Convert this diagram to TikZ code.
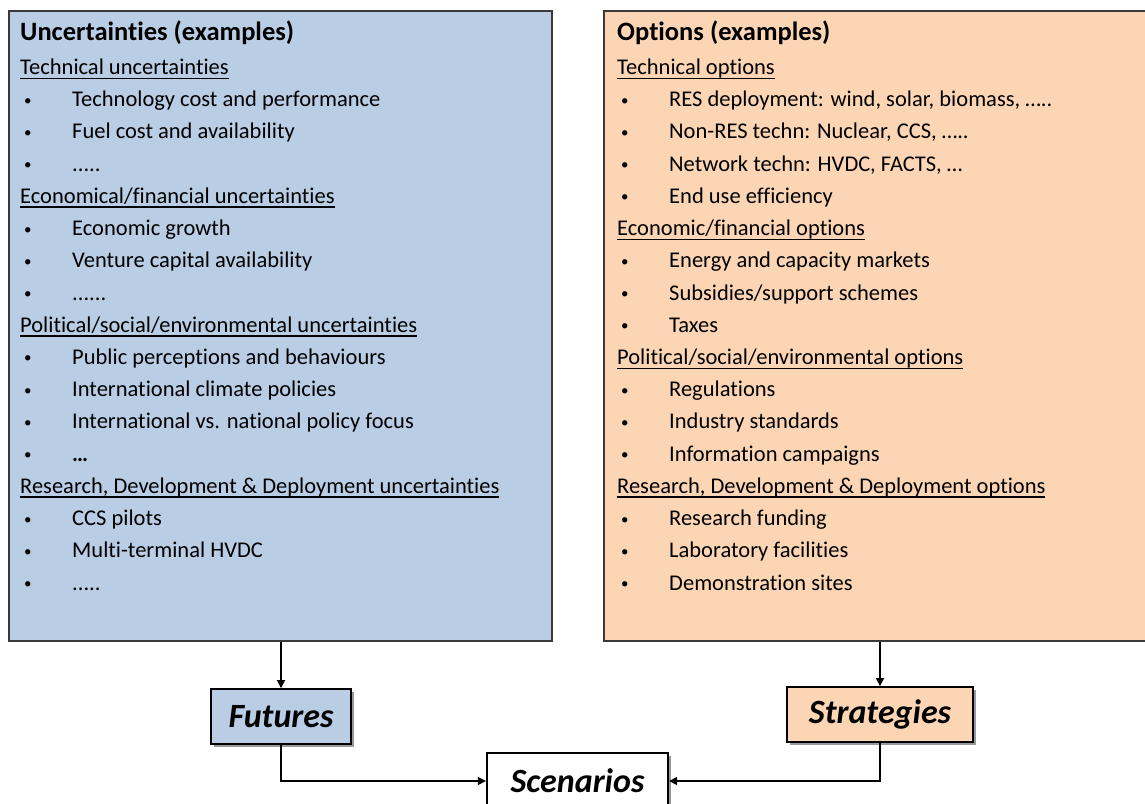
\documentclass[tikz,border=0pt]{standalone}
\usepackage{fontspec}
\setmainfont{Carlito}[Ligatures=CommonOff]
\usetikzlibrary{arrows.meta,shadows}

\definecolor{futblue}{HTML}{B9CDE5}
\definecolor{optpeach}{HTML}{FCD5B5}
\definecolor{boxgray}{HTML}{3A3A3A}

% underlined header and bullet item
\newcommand{\hdr}[1]{\setbox0=\hbox{#1}\rlap{\rule[-4.5pt]{\wd0}{1.4pt}}\box0}
\newcommand{\itm}[1]{\makebox[52pt][l]{\hspace{4pt}{\fontsize{15}{15}\selectfont\raisebox{1.5pt}{\textbullet}}}#1}

\begin{document}
\begin{tikzpicture}[x=1pt,y=-1pt,
	bigbox/.style={draw=boxgray,line width=1.5pt,anchor=north west,inner sep=0pt},
	tagbox/.style={draw=black,line width=1.8pt,minimum height=55pt,inner sep=0pt,
		font=\fontsize{34}{36}\selectfont\bfseries\itshape,
		drop shadow={shadow xshift=3pt,shadow yshift=-3pt,fill=black,opacity=.4}},
	txtline/.style={anchor=base west,inner sep=0pt,font=\fontsize{22.5}{26}\selectfont},
	boxtitle/.style={anchor=base west,inner sep=0pt,font=\fontsize{26.5}{30}\selectfont\bfseries},
	arr/.style={line width=1.5pt,-{Triangle[length=8pt,width=8pt]}}]

	\useasboundingbox (0,0) rectangle (1145,803);

	% the two example boxes
	\node[bigbox,fill=futblue,minimum width=543pt,minimum height=630pt] (unc) at (8,10) {};
	\node[bigbox,fill=optpeach,minimum width=554pt,minimum height=630pt] (opt) at (603,10) {};

	\node[boxtitle] (unctitle) at (20,40.5) {Uncertainties (examples)};
	\node[boxtitle] (opttitle) at (617,40.5) {Options (examples)};

	\foreach \txt [count=\i] in {
		{\hdr{Technical uncertainties}},
		{\itm{Technology cost and performance}},
		{\itm{Fuel cost and availability}},
		{\itm{.....}},
		{\hdr{Economical/financial uncertainties}},
		{\itm{Economic growth}},
		{\itm{Venture capital availability}},
		{\itm{......}},
		{\hdr{Political/social/environmental uncertainties}},
		{\itm{Public perceptions and behaviours}},
		{\itm{International climate policies}},
		{\itm{International vs. national policy focus}},
		{\itm{\textbf{\dots}}},
		{\hdr{Research, Development \& Deployment uncertainties}},
		{\itm{CCS pilots}},
		{\itm{Multi-terminal HVDC}},
		{\itm{.....}}}
		\node[txtline] (u\i) at (20,{74.5+32.22*(\i-1)}) {\txt};

	\foreach \txt [count=\i] in {
		{\hdr{Technical options}},
		{\itm{RES deployment: wind, solar, biomass, …..}},
		{\itm{Non-RES techn: Nuclear, CCS, …..}},
		{\itm{Network techn: HVDC, FACTS, …}},
		{\itm{End use efficiency}},
		{\hdr{Economic/financial options}},
		{\itm{Energy and capacity markets}},
		{\itm{Subsidies/support schemes}},
		{\itm{Taxes}},
		{\hdr{Political/social/environmental options}},
		{\itm{Regulations}},
		{\itm{Industry standards}},
		{\itm{Information campaigns}},
		{\hdr{Research, Development \& Deployment options}},
		{\itm{Research funding}},
		{\itm{Laboratory facilities}},
		{\itm{Demonstration sites}}}
		\node[txtline] (o\i) at (617,{74.5+32.22*(\i-1)}) {\txt};

	% futures, strategies, scenarios
	\node[tagbox,fill=futblue,minimum width=140pt] (fut) at (281,716.5) {Futures};
	\node[tagbox,fill=optpeach,minimum width=186pt] (strat) at (880,714.5) {Strategies};
	\node[tagbox,fill=white,line width=2.3pt,minimum width=181pt,minimum height=56pt] (scen) at (577.5,781) {Scenarios};

	\draw[arr] (unc.south -| fut.north) -- (fut.north);
	\draw[arr] (opt.south -| strat.north) -- (strat.north);
	\draw[arr] (fut.south) |- (scen.west);
	\draw[arr] (strat.south) |- (scen.east);
\end{tikzpicture}
\end{document}
